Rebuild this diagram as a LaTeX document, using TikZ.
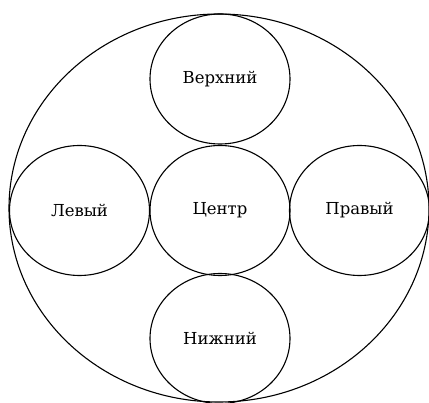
\documentclass[tikz,border=0pt]{standalone}
\usepackage{fontspec}
\setmainfont{DejaVu Serif}
\usetikzlibrary{shapes.geometric}

\begin{document}
\begin{tikzpicture}[
    x=1pt,y=-1pt,
    part/.style={ellipse,draw,line width=1.1pt,inner sep=0pt,minimum width=140pt,minimum height=130pt,font=\fontsize{16.5}{19}\selectfont},
    whole/.style={ellipse,draw,line width=1.1pt,inner sep=0pt,minimum width=420pt,minimum height=388pt},
]
\useasboundingbox (0,0) rectangle (429,403);
\node[whole] (all) at (219,208) {};
\node[part] (top) at (220,79) {Верхний};
\node[part] (mid) at (220,210.5) {Центр};
\node[part] (left) at (79.5,210.5) {Левый};
\node[part] (right) at (359.5,210.5) {Правый};
\node[part] (bottom) at (220,338.5) {Нижний};
\end{tikzpicture}
\end{document}
